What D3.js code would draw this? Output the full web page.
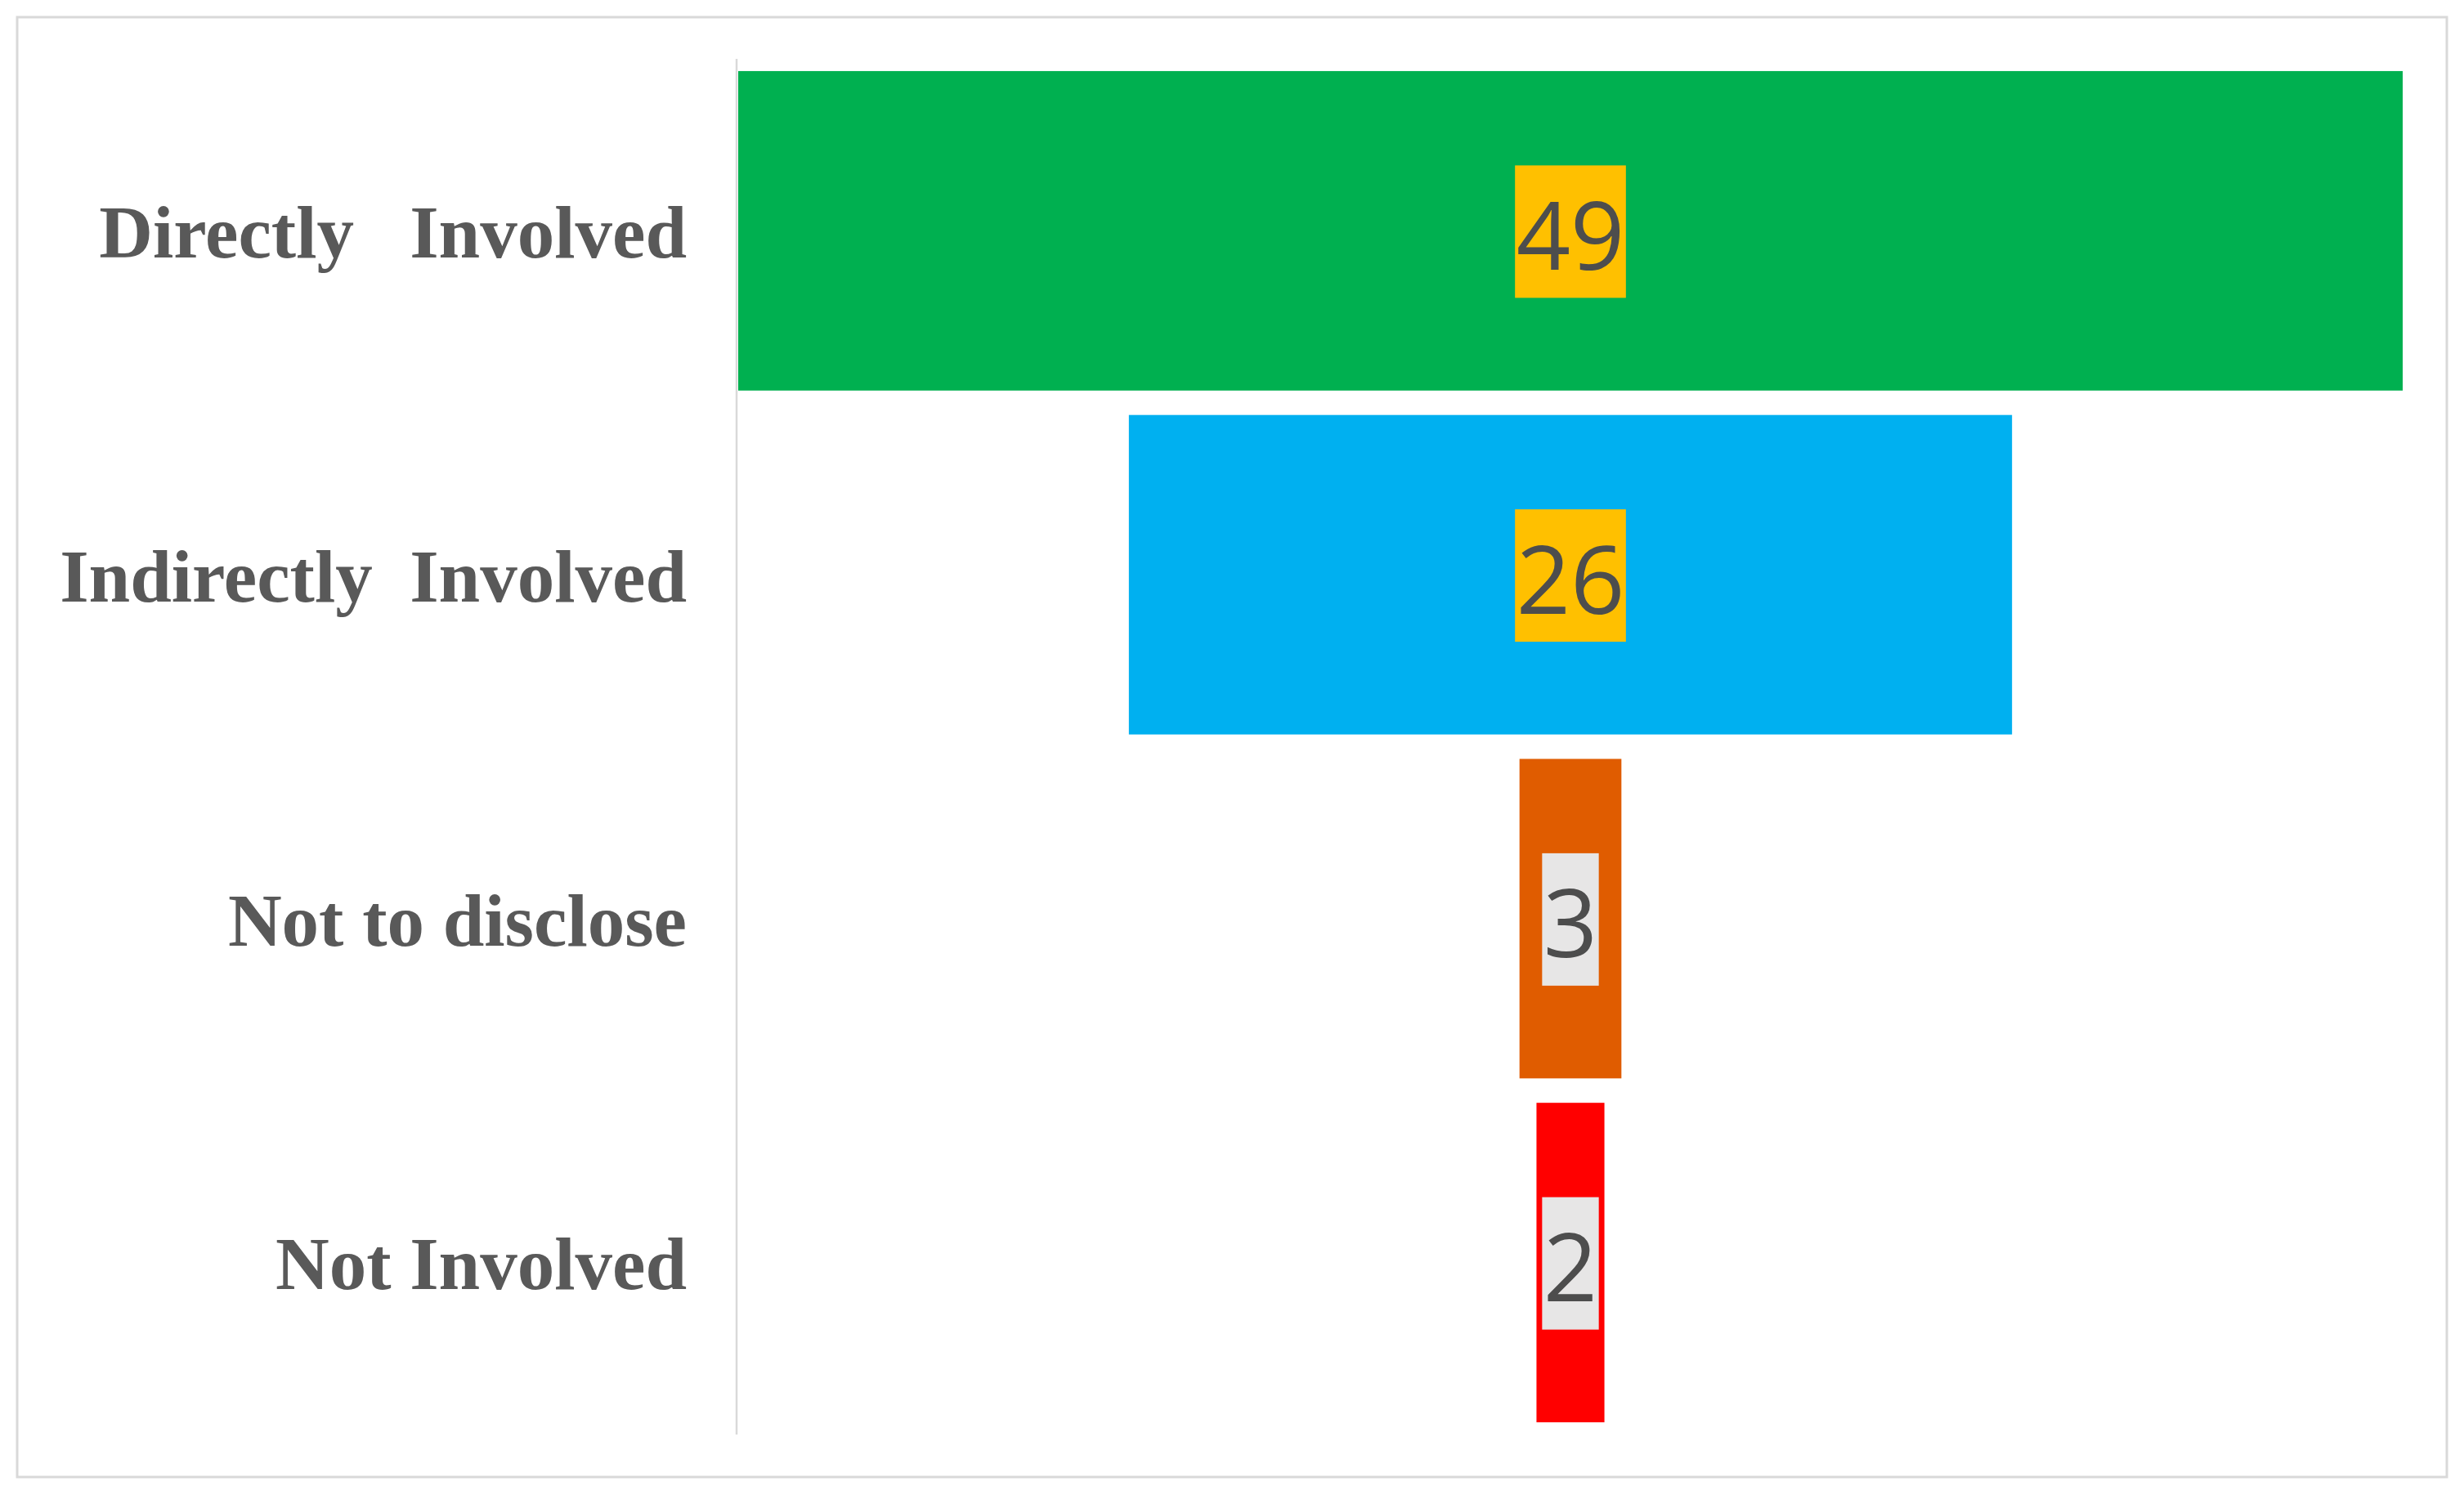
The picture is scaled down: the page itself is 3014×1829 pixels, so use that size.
<!DOCTYPE html>
<html>
<head>
<meta charset="utf-8">
<script src="https://cdn.jsdelivr.net/npm/d3@7"></script>
<style>
  html, body { margin: 0; padding: 0; background: #ffffff; }
  svg { display: block; }
</style>
</head>
<body>
<script>
// ---- Data ----
const categories = ["Directly   Involved", "Indirectly  Involved", "Not to disclose", "Not Involved"];
const values = [49, 26, 3, 2];
const barColors = ["#00B050", "#00B0F0", "#E05C00", "#FF0000"];
const labelBoxColors = ["#FFC000", "#FFC000", "#E7E6E6", "#E7E6E6"];

// ---- Layout ----
const W = 3014, H = 1829;
const plotLeft = 903, plotRight = 2939;
const plotTop = 72, plotBottom = 1755;
const axisX = 901;
const centerX = (plotLeft + plotRight) / 2;

const svg = d3.select("body").append("svg")
  .attr("width", W).attr("height", H);

svg.append("rect").attr("width", W).attr("height", H).attr("fill", "#ffffff");

// outer chart border
svg.append("rect")
  .attr("x", 21).attr("y", 21)
  .attr("width", 2972).attr("height", 1786)
  .attr("fill", "#ffffff")
  .attr("stroke", "#D9D9D9").attr("stroke-width", 3);

const y = d3.scaleBand()
  .domain(categories)
  .range([plotTop, plotBottom])
  .paddingInner(0.071)
  .paddingOuter(0.0355);

const w = d3.scaleLinear()
  .domain([0, d3.max(values)])
  .range([0, plotRight - plotLeft]);

const data = categories.map((c, i) => ({ cat: c, v: values[i], color: barColors[i], box: labelBoxColors[i] }));

// vertical axis line
const yAxis = d3.axisLeft(y).tickSize(0).tickPadding(61);
const gAxis = svg.append("g")
  .attr("transform", `translate(${axisX},0)`)
  .call(yAxis);
gAxis.select(".domain")
  .attr("stroke", "#D9D9D9").attr("stroke-width", 2.5)
  .attr("d", `M0,${plotTop}V${plotBottom}`);
gAxis.selectAll(".tick text")
  .attr("fill", "#595959")
  .attr("font-family", "'Liberation Serif', 'Times New Roman', serif")
  .attr("font-weight", "bold")
  .attr("font-size", 91)
  .attr("dy", "0.36em")
  .style("white-space", "pre");

// bars
svg.append("g").selectAll("rect")
  .data(data).join("rect")
  .attr("x", d => centerX - w(d.v) / 2)
  .attr("y", d => y(d.cat))
  .attr("width", d => w(d.v))
  .attr("height", y.bandwidth())
  .attr("fill", d => d.color);

// data labels
const lbl = svg.append("g").selectAll("g")
  .data(data).join("g")
  .attr("transform", d => `translate(${centerX},${y(d.cat) + y.bandwidth() / 2})`);

const boxRects = lbl.append("rect").attr("fill", d => d.box);

const texts = lbl.append("text")
  .attr("text-anchor", "middle")
  .attr("font-family", "'Open Sans', sans-serif")
  .attr("font-size", 116)
  .attr("fill", "#4D4D4D")
  .attr("dy", "0.41em")
  .text(d => d.v);

texts.each(function(d, i) {
  const len = this.getComputedTextLength();
  const bw = len + 3, bh = 162;
  d3.select(boxRects.nodes()[i])
    .attr("x", -bw / 2).attr("y", -bh / 2 + 1)
    .attr("width", bw).attr("height", bh);
});
</script>
</body>
</html>
